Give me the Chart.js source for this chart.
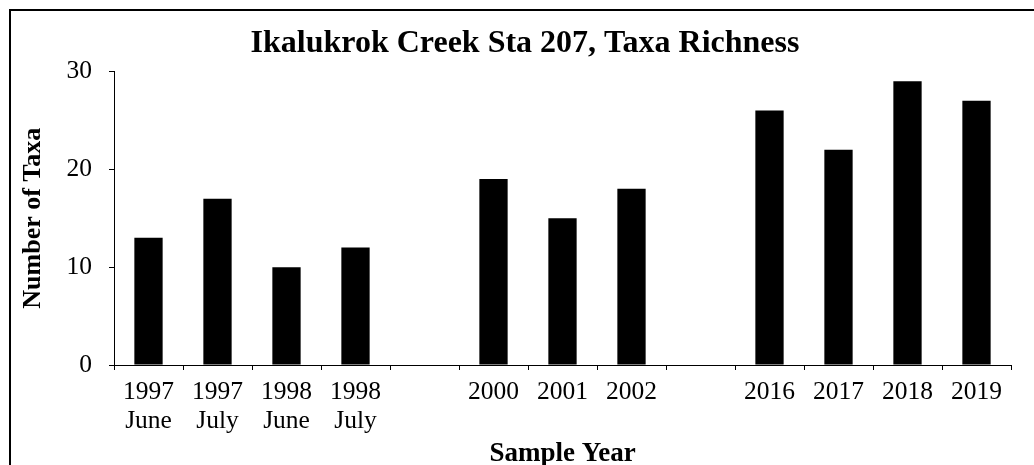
<!DOCTYPE html>
<html>
<head>
<meta charset="utf-8">
<script src="https://cdn.jsdelivr.net/npm/chart.js@4/dist/chart.umd.min.js"></script>
<style>
  html, body { margin: 0; padding: 0; background: #fff; overflow: hidden; width: 1034px; height: 465px; }
  #frame { position: absolute; left: 9px; top: 9px; width: 1100px; height: 520px; border: 2px solid #000; box-sizing: border-box; }
  #c { position: absolute; left: 0; top: 0; }
</style>
</head>
<body>
<div id="frame"></div>
<canvas id="c" width="1050" height="480"></canvas>
<script>
const categories = [
  ["1997", "June"], ["1997", "July"], ["1998", "June"], ["1998", "July"], "",
  "2000", "2001", "2002", "",
  "2016", "2017", "2018", "2019"
];
const taxaRichness = [13, 17, 10, 12, null, 19, 15, 18, null, 26, 22, 29, 27];
const yTicks = [0, 10, 20, 30];

const serif = "'Liberation Serif', 'Times New Roman', serif";

new Chart(document.getElementById('c'), {
  type: 'bar',
  data: {
    labels: categories,
    datasets: [{
      label: 'Number of Taxa',
      data: taxaRichness,
      backgroundColor: '#000',
      borderWidth: 0,
      barPercentage: 0.41,
      categoryPercentage: 1.0
    }]
  },
  options: {
    responsive: false,
    devicePixelRatio: 1,
    animation: false,
    layout: { padding: { left: 39, right: 39, top: 0, bottom: 0 } },
    plugins: {
      legend: { display: false },
      tooltip: { enabled: false },
      title: {
        display: true,
        text: 'Ikalukrok Creek Sta 207, Taxa Richness',
        color: '#000',
        font: { family: serif, size: 32, weight: 'bold', lineHeight: 1.2 },
        padding: { top: 25, bottom: 8 }
      }
    },
    scales: {
      x: {
        grid: { display: true, drawOnChartArea: false, drawTicks: true, tickLength: 5, color: '#000', lineWidth: 1, offset: true },
        border: { display: true, color: '#000', width: 1 },
        ticks: { color: '#000', font: { family: serif, size: 25.5, lineHeight: 1.14 }, padding: 8, maxRotation: 0, minRotation: 0, autoSkip: false },
        title: { display: true, text: 'Sample Year', color: '#000', font: { family: serif, size: 27, weight: 'bold', lineHeight: 1.2 }, padding: { top: 0, bottom: 10 } },
        afterFit: (s) => { s.height = 115; }
      },
      y: {
        min: 0, max: 30,
        afterBuildTicks: (s) => { s.ticks = yTicks.map(v => ({ value: v })); },
        grid: { display: true, drawOnChartArea: false, drawTicks: true, tickLength: 5, color: '#000', lineWidth: 1 },
        border: { display: true, color: '#000', width: 1 },
        ticks: { color: '#000', font: { family: serif, size: 25.5 }, padding: 17 },
        title: { display: true, text: 'Number of Taxa', color: '#000', font: { family: serif, size: 26, weight: 'bold', lineHeight: 1.2 }, padding: { top: -21, bottom: 0 } },
        afterFit: (s) => { s.width = 75; }
      }
    }
  }
});
</script>
</body>
</html>
